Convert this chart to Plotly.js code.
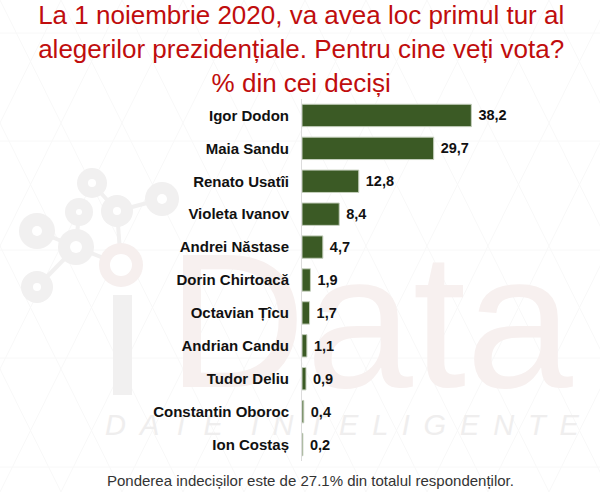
<!DOCTYPE html>
<html><head><meta charset="utf-8">
<script src="https://cdn.plot.ly/plotly-3.0.1.min.js"></script>
<style>html,body{margin:0;padding:0;background:#fff}</style></head>
<body><div id="c" style="width:600px;height:492px"></div>
<script>
const names = ["Igor Dodon","Maia Sandu","Renato Usatîi","Violeta Ivanov","Andrei Năstase","Dorin Chirtoacă","Octavian Țîcu","Andrian Candu","Tudor Deliu","Constantin Oboroc","Ion Costaș"];
const shares = [38.2,29.7,12.8,8.4,4.7,1.9,1.7,1.1,0.9,0.4,0.2];
const labels = ["38,2","29,7","12,8","8,4","4,7","1,9","1,7","1,1","0,9","0,4","0,2"];
const titleText = "La 1 noiembrie 2020, va avea loc primul tur al<br>alegerilor prezidențiale. Pentru cine veți vota?<br>% din cei deciși";
const footnote = "Ponderea indecișilor este de 27.1% din totalul respondenților.";
const watermarkTag = ["D","A","T","E","\u2009 I","N","T","E","L","I","G","E","N","T","E"].join(" \u2009");
const nodes = [[92,183,15,4],[162,199,17,5],[117,211,16,4],[79,212,14,3],[37,231,18,5],[76,247,18,6],[37,287,16,4]];
const links = [[92,183,117,211],[162,199,117,211],[117,211,121,265],[79,212,76,247],[37,231,76,247],[76,247,121,265],[76,247,37,287]];
const W=600,H=492,ML=302,MR=32,MT=99,MB=31;
const px=(x)=>(x-ML)/(W-ML-MR), py=(y)=>(H-MB-y)/(H-MT-MB);
const shapes=[];
const grey="#f1f0f0";
const base={xref:"paper",yref:"paper",layer:"below"};
for(const y of [33,141,250,358,467]) shapes.push({...base,type:"line",x0:px(0),x1:px(W),y0:py(y),y1:py(y),line:{color:"#f8f8f8",width:1}});
for(let x=-244;x<W+244;x+=61){
  shapes.push({...base,type:"line",x0:px(x),x1:px(x+244),y0:py(0),y1:py(H),line:{color:"#f8f8f8",width:1}});
  shapes.push({...base,type:"line",x0:px(x+244),x1:px(x),y0:py(0),y1:py(H),line:{color:"#f8f8f8",width:1}});
}
links.forEach(l=>shapes.push({...base,type:"line",x0:px(l[0]),y0:py(l[1]),x1:px(l[2]),y1:py(l[3]),line:{color:grey,width:4}}));
const ring=(n,c)=>{
 shapes.push({...base,type:"circle",x0:px(n[0]-n[2]),x1:px(n[0]+n[2]),y0:py(n[1]+n[2]),y1:py(n[1]-n[2]),fillcolor:c,line:{width:0}});
 shapes.push({...base,type:"circle",x0:px(n[0]-n[3]),x1:px(n[0]+n[3]),y0:py(n[1]+n[3]),y1:py(n[1]-n[3]),fillcolor:"#fff",line:{width:0}});
};
nodes.forEach(n=>ring(n,grey));
ring([121,265,22,11],"#f6efee");
shapes.push({...base,type:"rect",x0:px(113),x1:px(132),y0:py(395),y1:py(295),fillcolor:grey,line:{width:0}});
shapes.push({...base,type:"rect",x0:px(165),x1:px(575),y0:py(373),y1:py(231),fillcolor:"rgba(0,0,0,0)",line:{width:0},
  label:{text:"Data",textposition:"middle center",font:{family:"Liberation Sans",size:192,color:"#f7f0ef"}}});
shapes.push({...base,type:"rect",x0:px(113),x1:px(571),y0:py(433),y1:py(410),fillcolor:"rgba(0,0,0,0)",line:{width:0},
  label:{text:"<i>"+watermarkTag+"</i>",textposition:"middle center",font:{family:"Liberation Sans",size:29,color:"#efeeee"}}});
const ann=[{text:footnote,xref:"paper",yref:"paper",x:px(310),y:py(480),xanchor:"center",yanchor:"middle",showarrow:false,font:{family:"Liberation Sans",size:15,color:"#333"}}];
Plotly.newPlot("c",[{
 type:"bar",orientation:"h",y:names,x:shares,text:labels,texttemplate:"\u00a0%{text}",textposition:"outside",cliponaxis:false,
 textfont:{family:"Liberation Sans",size:14.5,color:"#111",weight:700},
 marker:{color:"#3b5a25",line:{color:"#c5cfbd",width:1}},width:0.68,hoverinfo:"skip"
}],{
 width:W,height:H,paper_bgcolor:"#fff",plot_bgcolor:"rgba(0,0,0,0)",showlegend:false,
 title:{text:titleText,x:0.502,xanchor:"center",y:0.951,yanchor:"top",yref:"container",font:{family:"Liberation Sans",size:26,color:"#c00d0d"}},
 margin:{l:ML,r:MR,t:MT,b:MB},
 xaxis:{range:[0,60],visible:false,fixedrange:true},
 yaxis:{autorange:"reversed",type:"category",ticks:"",showgrid:false,zeroline:false,showline:true,linecolor:"#dcdcdc",linewidth:1,ticklabelstandoff:9,
  tickfont:{family:"Liberation Sans",size:15,color:"#111",weight:700},fixedrange:true},
 shapes:shapes,annotations:ann
},{displayModeBar:false,staticPlot:true});
</script></body></html>
